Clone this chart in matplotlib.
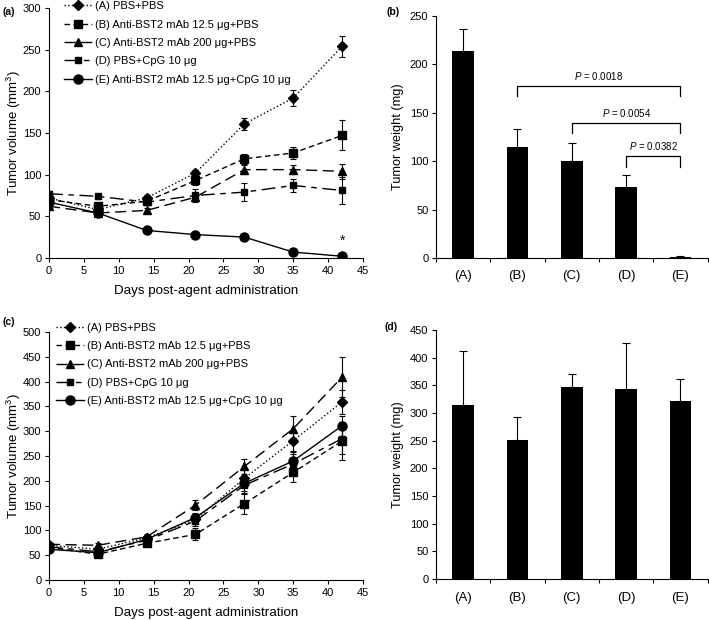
import matplotlib
matplotlib.use("Agg")
import matplotlib.pyplot as plt
from matplotlib.lines import Line2D
import numpy as np

plt.rcParams['font.family'] = ['Liberation Sans', 'DejaVu Sans']
plt.rcParams['mathtext.fontset'] = 'custom'
plt.rcParams['mathtext.rm'] = 'Liberation Sans'
plt.rcParams['mathtext.it'] = 'Liberation Sans:italic'
plt.rcParams['font.size'] = 8

# --- data ---
days = [0, 7, 14, 21, 28, 35, 42]
groups = ['(A)', '(B)', '(C)', '(D)', '(E)']
labels = ['(A) PBS+PBS',
          '(B) Anti-BST2 mAb 12.5 \u03bcg+PBS',
          '(C) Anti-BST2 mAb 200 \u03bcg+PBS',
          '(D) PBS+CpG 10 \u03bcg',
          '(E) Anti-BST2 mAb 12.5 \u03bcg+CpG 10 \u03bcg']

# panel (a) tumor volume
a_A = [72, 58, 72, 102, 161, 192, 254]
a_B = [70, 62, 68, 93, 119, 126, 147]
a_C = [62, 54, 57, 73, 106, 106, 104]
a_D = [77, 74, 67, 75, 79, 87, 81]
a_E = [67, 54, 33, 28, 25, 7, 2]
a_A_err = [3, 3, 3, 4, 7, 10, 13]
a_B_err = [3, 3, 3, 5, 6, 7, 18]
a_C_err = [3, 2, 3, 3, 5, 5, 9]
a_D_err = [3, 3, 3, 8, 11, 8, 16]
a_E_err = [2, 2, 2, 2, 2, 2, 1]

# panel (b) tumor weight
b_mean = [214, 115, 100, 73.5, 1]
b_err = [23, 18, 19, 12, 1]

# panel (c) tumor volume
c_A = [70, 62, 85, 122, 205, 281, 359]
c_B = [66, 52, 74, 92, 154, 217, 280]
c_C = [72, 70, 87, 151, 229, 305, 409]
c_D = [67, 57, 80, 119, 191, 234, 285]
c_E = [62, 55, 82, 126, 195, 240, 311]
c_A_err = [5, 5, 5, 10, 18, 22, 25]
c_B_err = [5, 5, 5, 12, 20, 20, 38]
c_C_err = [5, 5, 5, 10, 15, 25, 40]
c_D_err = [5, 5, 5, 10, 15, 20, 30]
c_E_err = [5, 5, 5, 10, 15, 20, 20]

# panel (d) tumor weight
d_mean = [315, 252, 346, 344, 322]
d_err = [96, 41, 24, 82, 39]

styles = [dict(marker='D', ms=5.2, ls=':'),
          dict(marker='s', ms=6, dashes=(4, 2.5)),
          dict(marker='^', ms=5.8, dashes=(8, 4)),
          dict(marker='s', ms=3.8, dashes=(10, 4, 4, 4)),
          dict(marker='o', ms=6.5, ls='-')]


def line_panel(ax, series, errs, ymax, ystep, legend_x, legend_y):
    handles = []
    for s, e, lab, st in zip(series, errs, labels, styles):
        ax.errorbar(days, s, yerr=e, color='black', lw=1.0, capsize=2,
                    elinewidth=0.8, capthick=0.8, **st)
        handles.append(Line2D([], [], color='black', lw=1.0, label=lab, **st))
    ax.set_xlim(0, 45)
    ax.set_ylim(0, ymax)
    ax.set_xticks(np.arange(0, 46, 5))
    ax.set_yticks(np.arange(0, ymax + 1, ystep))
    ax.spines['top'].set_visible(False)
    ax.spines['right'].set_visible(False)
    ax.set_xlabel('Days post-agent administration', fontsize=9.6, labelpad=6.5)
    ax.set_ylabel('Tumor volume (mm$^3$)', fontsize=9.5, labelpad=0)
    ax.tick_params(length=3, width=0.8, pad=2.5)
    ax.legend(handles=handles, loc='upper left',
              bbox_to_anchor=(legend_x, legend_y),
              frameon=False, handlelength=2.5, handletextpad=0.3,
              labelspacing=0.75, fontsize=8, borderaxespad=0)


def bar_panel(ax, means, errs, ymax, ystep):
    x = np.arange(len(groups))
    ax.bar(x, means, width=0.4, color='black')
    ax.errorbar(x, means, yerr=[np.zeros(len(errs)), errs], fmt='none',
                ecolor='black', capsize=3, elinewidth=0.8, capthick=0.8)
    ax.set_xlim(-0.5, 4.5)
    ax.set_ylim(0, ymax)
    ax.set_yticks(np.arange(0, ymax + 1, ystep))
    ax.set_xticks(np.arange(-0.5, 5, 1))
    ax.set_xticklabels([])
    ax.set_xticks(x, minor=True)
    ax.set_xticklabels(groups, minor=True, fontsize=9.5)
    ax.tick_params(axis='x', which='minor', length=0, pad=9)
    ax.tick_params(length=3, width=0.8, pad=2.5)
    ax.spines['top'].set_visible(False)
    ax.spines['right'].set_visible(False)
    ax.set_ylabel('Tumor weight (mg)', fontsize=9.2, labelpad=4)


fig = plt.figure(figsize=(7.09, 6.2), dpi=100)
ax_a = fig.add_axes([0.069, 0.584, 0.443, 0.403])
ax_b = fig.add_axes([0.615, 0.584, 0.383, 0.390])
ax_c = fig.add_axes([0.069, 0.0645, 0.443, 0.400])
ax_d = fig.add_axes([0.615, 0.066, 0.383, 0.402])

line_panel(ax_a, [a_A, a_B, a_C, a_D, a_E],
           [a_A_err, a_B_err, a_C_err, a_D_err, a_E_err], 300, 50, 0.034, 1.045)
ax_a.text(42, 21, '*', ha='center', va='center', fontsize=10)

bar_panel(ax_b, b_mean, b_err, 250, 50)
brackets = [(1, 4, 177.5, 167, '0.0018'),
            (2, 4, 140, 129.5, '0.0054'),
            (3, 4, 105, 94.5, '0.0382')]
for x0, x1, ytop, ylow, p in brackets:
    ax_b.plot([x0, x0, x1, x1], [ylow, ytop, ytop, ylow], color='black', lw=0.9)
    ax_b.text((x0 + x1) / 2, ytop + 4, '$P$ = ' + p, ha='center', va='bottom',
              fontsize=7)

line_panel(ax_c, [c_A, c_B, c_C, c_D, c_E],
           [c_A_err, c_B_err, c_C_err, c_D_err, c_E_err], 500, 50, 0.008, 1.055)
bar_panel(ax_d, d_mean, d_err, 450, 50)

for txt, x, y in [('(a)', 0.003, 0.988), ('(b)', 0.545, 0.988),
                  ('(c)', 0.003, 0.488), ('(d)', 0.543, 0.48)]:
    fig.text(x, y, txt, fontsize=7.5, fontweight='bold', va='top')

fig.savefig('out.png', dpi=100)
